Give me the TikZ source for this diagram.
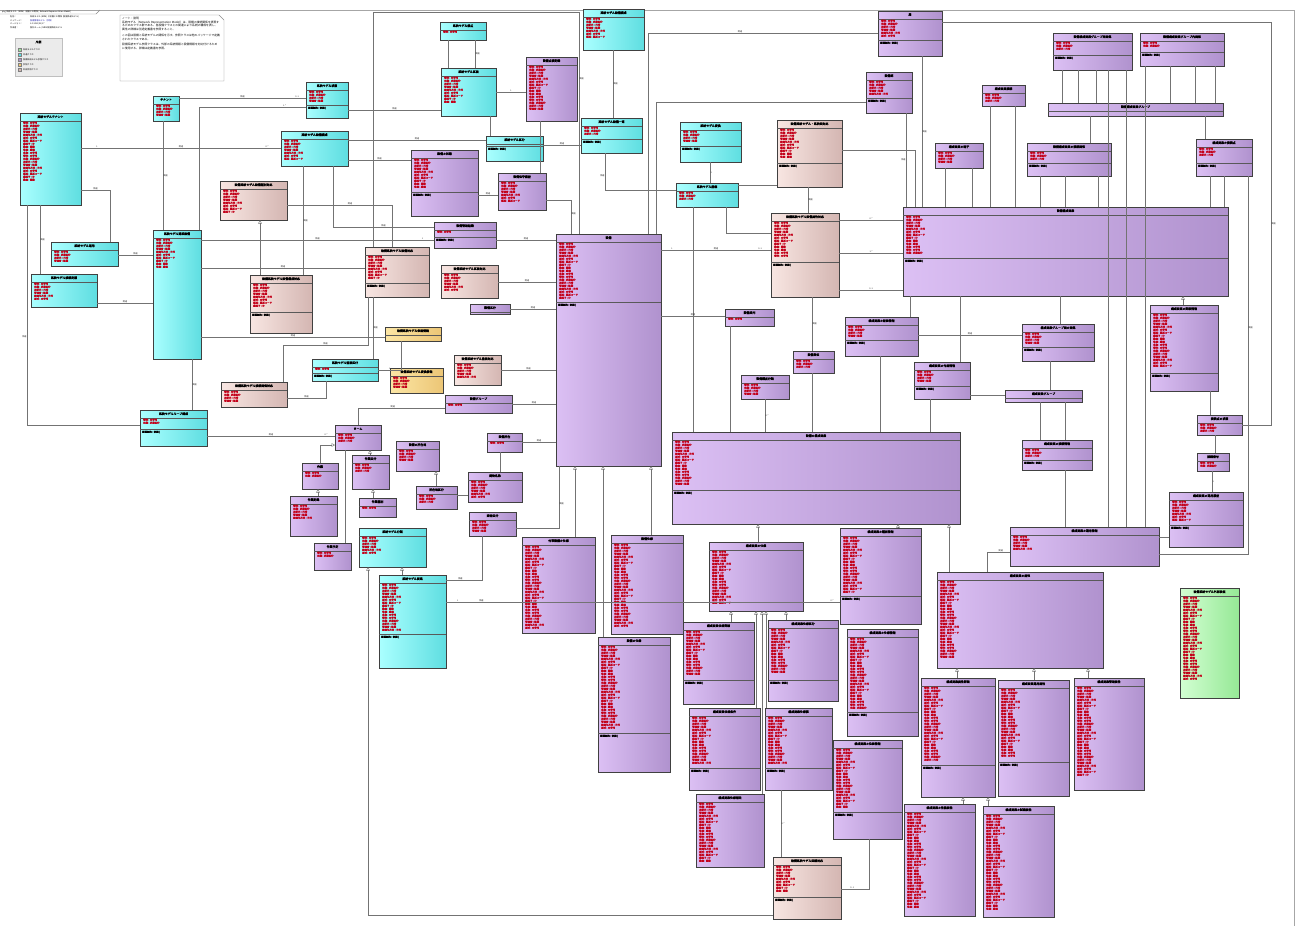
\documentclass[tikz,border=0pt]{standalone}
\usepackage{fontspec}
\newfontfamily\cjk[AutoFakeBold=2]{Noto Sans CJK JP}
\XeTeXlinebreaklocale "ja"
\XeTeXlinebreakskip=0pt
\usetikzlibrary{calc,arrows.meta}
\definecolor{cyL}{RGB}{170,255,255}
\definecolor{cyR}{RGB}{95,222,225}
\definecolor{puL}{RGB}{220,192,244}
\definecolor{puR}{RGB}{176,146,206}
\definecolor{pkL}{RGB}{248,230,226}
\definecolor{pkR}{RGB}{212,182,178}
\definecolor{orL}{RGB}{252,230,165}
\definecolor{orR}{RGB}{236,198,118}
\definecolor{grL}{RGB}{210,255,210}
\definecolor{grR}{RGB}{150,232,150}
\definecolor{attrred}{RGB}{195,0,25}
\definecolor{linkblue}{RGB}{30,30,170}
\newcommand\uTitleFont{\cjk\bfseries\fontsize{2.9}{3.2}\selectfont}
\newcommand\uAttrFont{\cjk\bfseries\fontsize{2.4}{2.8}\selectfont}
\newcommand\uLabFont{\cjk\fontsize{2.1}{2.5}\selectfont}
\newcommand\uNoteFont{\cjk\fontsize{2.8}{3.7}\selectfont}
\newcommand\uattr[1]{\ifcase#1 名称 : 文字列\or 識別子 : ID\or 設置年月日 : 日付\or 状態 : 状態区分\or 位置 : 座標\or 種別 : 種別コード\or 管理者 : 組織\or 備考 : 文字列\or 数量 : 整数\or 型式 : 文字列\or 更新日 : 日時\fi}
\tikzset{
 cy/.style={draw=black!75, line width=0.45pt, left color=cyL, right color=cyR},
 pu/.style={draw=black!75, line width=0.45pt, left color=puL, right color=puR},
 pk/.style={draw=black!75, line width=0.45pt, left color=pkL, right color=pkR},
 orb/.style={draw=black!75, line width=0.45pt, left color=orL, right color=orR},
 gr/.style={draw=black!75, line width=0.45pt, left color=grL, right color=grR},
 bl/.style={draw=black!65, line width=0.35pt},
 conn/.style={draw=black!55, line width=0.45pt},
 gen/.style={conn, -{Triangle[open,length=3.5pt,width=3.5pt]}},
 ml/.style={font=\uLabFont, inner sep=0.3pt, text=black!85},
 attr/.style={font=\uAttrFont, text=attrred, inner sep=0, anchor=west},
 ops/.style={font=\uAttrFont, text=black, inner sep=0, anchor=west},
 ttl/.style={font=\uTitleFont, inner sep=0, align=flush center, anchor=north},
}
\newcommand\ubox[9]{%
 \pgfmathsetmacro\ubw{#4-#2}\pgfmathsetmacro\ubh{#5-#3}\pgfmathsetmacro\ubt{#4-#2-3}%
 \node[#6, inner sep=0, outer sep=0, minimum width=\ubw pt, minimum height=\ubh pt, anchor=north west] (#1) at (#2,#3) {};
 \node[ttl, text width=\ubt pt] (#1t) at ($(#1.north)+(0,2.2)$) {#7};
 \draw[bl] ($(#1.north west)+(0,8)$) -- ($(#1.north east)+(0,8)$);
 \ifnum#8>0 \foreach \i in {1,...,#8}{\pgfmathtruncatemacro\k{mod(\i*7,11)}\node[attr] (#1a\i) at ($(#1.north west)+(3,8+3*\i-1.2)$) {\uattr{\k}};}\fi
 \ifnum#9>0 \draw[bl] (#2,#9) -- (#4,#9); \node[ops] (#1o) at (#2+2,#9+3) {関連制約 : 参照()};\fi
}
\begin{document}
\begin{tikzpicture}[x=1pt,y=-1pt]
\useasboundingbox (0,0) rectangle (1298,927);
\fill[white] (0,0) rectangle (1298,927);
% frame
\draw[black!35, line width=0.7pt] (0,10) -- (1294,10) -- (1294,926);
\draw[black!45, line width=0.4pt] (0,14) -- (96,14) -- (100,10);
\node[font=\uLabFont, anchor=west, inner sep=0] (pkg) at (2,12) {pkg 系統モデル（NRM）設備との関係 [ Network Representation Model ]};
% header rows
\node[font=\uLabFont, anchor=west, inner sep=0] (h1) at (10,17) {名前：};
\node[font=\uLabFont, anchor=west, inner sep=0] (h1v) at (30,17) {系統モデル (NRM) と設備との関係 (設備系統モデル)};
\node[font=\uLabFont, anchor=west, inner sep=0] (h2) at (10,20.5) {パッケージ：};
\node[font=\uLabFont, anchor=west, inner sep=0, text=linkblue] (h2v) at (30,20.5) {設備情報モデル（参照）};
\node[font=\uLabFont, anchor=west, inner sep=0] (h3) at (10,24) {バージョン：};
\node[font=\uLabFont, anchor=west, inner sep=0] (h3v) at (30,24) {1.0 2023/01/17};
\node[font=\uLabFont, anchor=west, inner sep=0] (h4) at (10,27.5) {作成者：};
\node[font=\uLabFont, anchor=west, inner sep=0] (h4v) at (30,27.5) {設計チーム / NRM 設備系統モデル};
% legend
\node[draw=black!25, fill=black!8, inner sep=0, minimum width=47pt, minimum height=38pt, anchor=north west] (leg) at (15,38) {};
\node[font=\uTitleFont, inner sep=0] (legt) at (38.5,42) {凡例};
\foreach \c/\t [count=\n] in {grR/系統モデルクラス, cyR/共通クラス, puR/設備系統モデル参照クラス, orR/参照クラス, pkR/外部参照クラス}{
  \node[draw=black!50, fill=\c, minimum size=3pt, inner sep=0] (legs\n) at (19.5,45+5*\n) {};
  \node[font=\uLabFont, anchor=west, inner sep=0] (legl\n) at (23,45+5*\n) {\t};
}
% note
\draw[draw=black!45, fill=white, line width=0.4pt] (120,15) -- (219,15) -- (224,20) -- (224,81) -- (120,81) -- cycle;
\node[font=\uNoteFont, text width=98pt, anchor=north west, inner sep=0, align=left] (note) at (122,17) {ノート：説明\\系統モデル（Network Representation Model）は、設備の接続関係を表現するためのクラス群である。各設備クラスとの関連により系統の構成を表し、属性の詳細は別途定義書を参照すること。\\[2pt]この図は設備と系統モデルの関係を示す。参照クラスは他のパッケージで定義されたクラスである。\\[2pt]設備系統モデル参照クラスは、外部の系統情報と設備情報を対応付けるために使用する。詳細は定義書を参照。};
% ===== boxes =====
\ubox{C1}{153}{96}{179}{121}{cy}{テナント}{4}{0}
\ubox{C2}{20}{113}{81}{205}{cy}{系統モデルテナント}{20}{0}
\ubox{C3}{306}{82}{348}{118}{cy}{系統モデル状態}{4}{105}
\ubox{C4}{281}{131}{348}{166}{cy}{系統モデル設備構成}{7}{0}
\ubox{C5}{51}{242}{118}{266}{cy}{系統モデル運用}{4}{0}
\ubox{C6}{31}{274}{97}{307}{cy}{系統モデル接続定義}{6}{0}
\ubox{C7}{153}{230}{201}{359}{cy}{系統モデル連系設備}{10}{0}
\ubox{C8}{312}{359}{378}{381}{cy}{系統モデル監視区分}{1}{373}
\ubox{C9}{140}{410}{207}{446}{cy}{系統モデルループ構成}{2}{429}
\ubox{C10}{583}{9}{644}{50}{cy}{系統モデル設備構成}{7}{0}
\ubox{C11}{440}{22}{486}{40}{cy}{系統モデル接点}{1}{0}
\ubox{C12}{441}{68}{496}{116}{cy}{系統モデル区間}{9}{0}
\ubox{C13}{486}{136}{543}{161}{cy}{系統モデル区分}{0}{146}
\ubox{C14}{581}{118}{642}{153}{cy}{系統モデル設備一覧}{3}{139}
\ubox{C15}{680}{122}{741}{162}{cy}{系統モデル変換}{4}{146}
\ubox{C16}{676}{183}{738}{207}{cy}{系統モデル座標}{3}{0}
\ubox{C17}{359}{528}{426}{567}{cy}{系統モデル分類}{6}{0}
\ubox{C18}{379}{575}{446}{668}{cy}{系統モデル要素}{16}{634}
\ubox{P1}{220}{181}{287}{220}{pk}{設備系統モデル設備種別対応}{8}{0}
\ubox{P2}{250}{275}{312}{333}{pk}{設備系統モデル設備構成対応}{8}{312}
\ubox{P3}{365}{247}{429}{297}{pk}{設備系統モデル設備対応}{8}{283}
\ubox{P4}{221}{382}{287}{407}{pk}{設備系統モデル接続関係対応}{4}{0}
\ubox{P5}{441}{265}{498}{298}{pk}{設備系統モデル区間対応}{6}{0}
\ubox{P6}{454}{355}{501}{385}{pk}{設備系統モデル監視対応}{5}{0}
\ubox{P7}{777}{120}{842}{187}{pk}{設備系統モデル・系統図対応}{10}{163}
\ubox{P8}{771}{213}{839}{297}{pk}{設備系統モデル設備属性対応}{12}{262}
\ubox{P9}{773}{857}{841}{919}{pk}{設備系統モデル回線対応}{9}{897}
\ubox{O1}{385}{327}{441}{341}{orb}{設備系統モデル参照情報}{0}{0}
\ubox{O2}{390}{368}{443}{393}{orb}{設備系統モデル変換情報}{4}{0}
\ubox{G1}{1180}{588}{1239}{698}{gr}{設備系統モデル外部参照}{28}{0}
\ubox{U1}{526}{57}{577}{121}{pu}{設備点検記録}{15}{0}
\ubox{U2}{411}{150}{478}{216}{pu}{設備の状態}{10}{192}
\ubox{U3}{498}{173}{546}{210}{pu}{設備保守履歴}{7}{0}
\ubox{U4}{434}{222}{496}{248}{pu}{設備管理組織}{1}{237}
\ubox{U5}{470}{304}{510}{314}{pu}{設備区分}{0}{0}
\ubox{U6}{445}{395}{512}{413}{pu}{設備グループ}{1}{0}
\ubox{U7}{487}{433}{522}{452}{pu}{設備所在}{1}{0}
\ubox{U8}{556}{234}{661}{466}{pu}{設備}{19}{302}
\ubox{U9}{725}{309}{774}{326}{pu}{設備系列}{1}{0}
\ubox{U10}{793}{351}{834}{373}{pu}{設備単位}{3}{0}
\ubox{U11}{741}{375}{789}{399}{pu}{設備種別分類}{4}{0}
\ubox{U12}{672}{432}{960}{524}{pu}{設備の構成要素}{15}{490}
\ubox{U13}{878}{11}{942}{56}{pu}{局}{6}{40}
\ubox{U14}{866}{72}{912}{113}{pu}{設備群}{5}{98}
\ubox{U15}{1053}{33}{1132}{70}{pu}{設備構成要素グループ間関係}{3}{55}
\ubox{U16}{1140}{33}{1224}{66}{pu}{設備構成要素グループ内関係}{2}{52}
\ubox{U17}{982}{85}{1025}{106}{pu}{構成要素接続}{3}{0}
\ubox{U18}{1048}{103}{1223}{116}{pu}{設備構成要素グループ}{0}{0}
\ubox{U19}{935}{143}{983}{168}{pu}{構成要素の端子}{4}{0}
\ubox{U20}{1027}{143}{1111}{176}{pu}{設備構成要素の接続関係}{3}{163}
\ubox{U21}{1196}{139}{1252}{176}{pu}{構成要素の接続点}{3}{163}
\ubox{U22}{903}{207}{1228}{296}{pu}{設備構成要素}{13}{258}
\ubox{U23}{845}{317}{918}{356}{pu}{構成要素の配置情報}{4}{340}
\ubox{U24}{1022}{324}{1094}{361}{pu}{構成要素グループ間の関係}{4}{347}
\ubox{U25}{914}{362}{970}{399}{pu}{構成要素の付属情報}{4}{386}
\ubox{U26}{1005}{390}{1082}{402}{pu}{構成要素グループ}{0}{0}
\ubox{U27}{1150}{305}{1218}{391}{pu}{構成要素の詳細情報}{18}{373}
\ubox{U28}{1197}{415}{1242}{435}{pu}{接続点の状態}{3}{0}
\ubox{U29}{1022}{440}{1092}{470}{pu}{構成要素の接続情報}{3}{460}
\ubox{U30}{1197}{453}{1229}{471}{pu}{接続番号}{2}{0}
\ubox{U31}{1169}{492}{1243}{547}{pu}{構成要素の運用履歴}{7}{525}
\ubox{U32}{1010}{527}{1159}{566}{pu}{構成要素の運用情報}{5}{0}
\ubox{U33}{937}{572}{1103}{668}{pu}{構成要素の属性}{26}{0}
\ubox{U34}{921}{678}{995}{797}{pu}{構成要素属性詳細}{25}{765}
\ubox{U35}{998}{680}{1069}{796}{pu}{構成要素運用属性}{23}{762}
\ubox{U36}{1074}{678}{1144}{790}{pu}{構成要素管理属性}{30}{0}
\ubox{U37}{904}{804}{975}{916}{pu}{構成要素の性能属性}{32}{0}
\ubox{U38}{983}{806}{1054}{917}{pu}{構成要素の試験属性}{32}{0}
\ubox{U39}{840}{528}{921}{624}{pu}{構成要素の種別情報}{19}{596}
\ubox{U40}{847}{629}{918}{736}{pu}{構成要素の仕様情報}{24}{712}
\ubox{U41}{833}{740}{902}{839}{pu}{構成要素の位置情報}{20}{812}
\ubox{U42}{468}{472}{522}{502}{pu}{建物名称}{6}{0}
\ubox{U43}{469}{512}{516}{536}{pu}{建物区分}{4}{0}
\ubox{U44}{522}{537}{595}{633}{pu}{付帯設備の仕様}{28}{0}
\ubox{U45}{611}{535}{683}{634}{pu}{設備仕様}{28}{0}
\ubox{U46}{709}{542}{803}{611}{pu}{構成要素の仕様}{18}{0}
\ubox{U47}{598}{637}{670}{772}{pu}{設備の仕様}{28}{733}
\ubox{U48}{683}{622}{754}{704}{pu}{構成要素仕様詳細}{15}{680}
\ubox{U49}{768}{620}{838}{701}{pu}{構成要素仕様区分}{15}{680}
\ubox{U50}{689}{708}{760}{790}{pu}{構成要素仕様条件}{16}{768}
\ubox{U51}{765}{708}{832}{790}{pu}{構成要素仕様値}{16}{768}
\ubox{U52}{696}{794}{764}{867}{pu}{構成要素仕様補足}{20}{0}
\ubox{U53}{335}{425}{381}{450}{pu}{ターム}{3}{0}
\ubox{U54}{396}{441}{439}{471}{pu}{設備の所在地}{4}{0}
\ubox{U55}{416}{486}{457}{509}{pu}{所在地区分}{3}{0}
\ubox{U56}{302}{463}{338}{489}{pu}{作業}{2}{0}
\ubox{U57}{352}{455}{389}{489}{pu}{作業区分}{3}{0}
\ubox{U58}{290}{496}{337}{536}{pu}{作業記録}{5}{0}
\ubox{U59}{359}{498}{396}{517}{pu}{作業種別}{1}{0}
\ubox{U60}{314}{543}{351}{570}{pu}{作業予定}{2}{0}
% ===== connectors: left =====
\draw[conn] (C2.east|-0,148) -- node[ml,above,pos=0.08]{1} node[ml,above]{関連} node[ml,above,pos=0.93]{0..*} (C4.west|-0,148);
\draw[conn] (C1.east|-0,98) -- node[ml,above]{関連} node[ml,above,pos=0.93]{0..1} (C3.west|-0,98);
\draw[conn] (C1.south-|163,0) -- node[ml,right]{関連} (C7.north-|163,0);
\draw[conn] (C7.north-|199,0) |- node[ml,above,pos=0.9]{1..*} (C3.west|-0,107);
\draw[conn] (C2.east|-0,190) -| node[ml,above,pos=0.25]{関連} (C5.north-|110,0);
\draw[conn] (C2.south-|40,0) -- node[ml,right]{関連} (C6.north-|40,0);
\draw[conn] (C2.south-|27,0) |- node[ml,left,pos=0.3]{関連} (C9.west|-0,425);
\draw[conn] (C5.east|-0,255) -- node[ml,above]{関連} (C7.west|-0,255);
\draw[conn] (C6.east|-0,303) -- node[ml,above]{関連} (C7.west|-0,303);
\draw[conn] (C7.south-|192,0) -- node[ml,right]{関連} (C9.north-|192,0);
\draw[conn] (C9.east|-0,436) -- node[ml,above]{関連} node[ml,above,pos=0.93]{0..*} (U53.west|-0,436);
\draw[conn] (C7.east|-0,240) -- node[ml,above]{関連} node[ml,above,pos=0.95]{1} (U4.west|-0,240);
\draw[conn] (U4.east|-0,240) -- node[ml,above]{関連} (U8.west|-0,240);
\draw[conn] (C7.east|-0,268) -- node[ml,above]{関連} (P3.west|-0,268);
\draw[conn] (C7.east|-0,337) -- node[ml,above]{関連} (O1.west|-0,337);
\draw[gen] (P2.north-|260,0) -- (P1.south-|260,0);
\draw[conn] (C4.south-|303,0) -- node[ml,right]{関連} (P2.north-|303,0);
\draw[conn] (C4.south-|333,0) |- node[ml,above,pos=0.75]{関連} (U4.west|-0,227);
\draw[conn] (P1.east|-0,205) -| node[ml,above,pos=0.3]{関連} (P3.north-|392,0);
\draw[conn] (C3.east|-0,110) -- node[ml,above]{関連} (C12.west|-0,110);
\draw[conn] (C4.east|-0,140) -- node[ml,above]{関連} (C13.west|-0,140);
\draw[conn] (C4.east|-0,160) -- node[ml,above]{関連} (U2.west|-0,160);
\draw[conn] (P3.north-|373,0) -- (373,12) -- (579,12) -- node[ml,right,pos=0.3]{関連} (U8.north-|579,0);
\draw[conn] (P3.south-|373,0) -- node[ml,right]{関連} (C8.north-|373,0);
\draw[conn] (O1.south-|401,0) |- node[ml,above,pos=0.75]{1} (C8.east|-0,370);
\draw[conn] (P3.south-|368,0) -- (368,345) -| node[ml,above,pos=0.25]{関連} (P4.north-|283,0);
\draw[conn] (C8.south-|326,0) |- node[ml,above,pos=0.75]{関連} (P4.east|-0,398);
\draw[conn] (U53.north-|358,0) |- node[ml,above,pos=0.7]{関連} (U6.west|-0,408);
\draw[conn] (C11.south-|448,0) -- (C12.north-|448,0);
\draw[conn] (C11.south-|475,0) -- node[ml,right]{関連} (C12.north-|475,0);
\draw[conn] (C12.east|-0,92) -- node[ml,above]{1} (U1.west|-0,92);
\draw[conn] (C12.south-|490,0) -- (C13.north-|490,0);
\draw[conn] (U1.south-|540,0) -- (U3.north-|540,0);
\draw[conn] (C10.south-|613,0) -- node[ml,right]{関連} (C14.north-|613,0);
\draw[conn] (C14.west|-0,145) -- node[ml,above]{関連} (C13.east|-0,145);
\draw[conn] (C14.south-|605,0) |- node[ml,left,pos=0.3]{関連} (C16.west|-0,190);
\draw[conn] (U13.west|-0,33) -| node[ml,above,pos=0.3]{関連} (U8.north-|648,0);
\draw[conn] (U14.west|-0,102) -| (U8.north-|656,0);
\draw[conn] (C16.south-|693,0) -- (U12.north-|693,0);
\draw[conn] (C16.south-|726,0) |- (P8.west|-0,233);
\draw[conn] (C16.east|-0,185) -- (P7.west|-0,185);
\draw[conn] (C15.south-|710,0) -- node[ml,right]{1} (C16.north-|710,0);
\draw[conn] (U8.east|-0,250) -- node[ml,above,pos=0.1]{1} node[ml,above]{関連} node[ml,above,pos=0.9]{0..1} (P8.west|-0,250);
\draw[conn] (U8.east|-0,316) -- node[ml,above]{関連} (U9.west|-0,316);
\draw[conn] (P7.south-|808,0) -- node[ml,right]{関連} (P8.north-|808,0);
\draw[conn] (P8.south-|812,0) -- node[ml,right]{関連} (U10.north-|812,0);
\draw[conn] (U9.south-|730,0) -- (U12.north-|730,0);
\draw[conn] (U10.south-|812,0) -- (U12.north-|812,0);
\draw[conn] (U11.south-|765,0) -- node[ml,right]{0..*} (U12.north-|765,0);
\draw[conn] (U2.east|-0,195) -- node[ml,above]{関連} (U3.west|-0,195);
\draw[conn] (U3.east|-0,200) -| node[ml,right,pos=0.7]{関連} (U8.north-|571,0);
\draw[conn] (P5.east|-0,282) -- node[ml,above]{関連} (U8.west|-0,282);
\draw[conn] (U5.east|-0,309) -- node[ml,above]{関連} (U8.west|-0,309);
\draw[conn] (P6.east|-0,370) -- node[ml,above]{関連} (U8.west|-0,370);
\draw[conn] (U6.east|-0,404) -- node[ml,above]{関連} (U8.west|-0,404);
\draw[conn] (U7.east|-0,442) -- node[ml,above]{関連} (U8.west|-0,442);
\draw[conn] (U23.south-|880,0) -- (U12.north-|880,0);
\draw[conn] (U25.south-|930,0) -- (U12.north-|930,0);
% ===== connectors: right =====
\draw[conn] (U13.south-|922,0) -- node[ml,right]{関連} (U22.north-|922,0);
\draw[conn] (U14.south-|906,0) -- node[ml,left]{関連} (U22.north-|906,0);
\draw[conn] (U13.east|-0,22) -- (1271,22) |- node[ml,right,pos=0.25]{関連} (U28.east|-0,425);
\foreach \xx in {1062,1078,1096} \draw[conn] (U15.south-|\xx,0) -- (U18.north-|\xx,0);
\draw[conn] (U15.south-|1108,0) -- (U32.north-|1108,0);
\draw[conn] (U15.south-|1126,0) -- (U32.north-|1126,0);
\draw[conn] (U16.south-|1145,0) -- (U32.north-|1145,0);
\foreach \xx in {1170,1195,1215} \draw[conn] (U16.south-|\xx,0) -- (U18.north-|\xx,0);
\foreach \xx in {990,1015} \draw[conn] (U17.south-|\xx,0) -- (U22.north-|\xx,0);
\draw[conn] (U18.south-|1090,0) -- (U20.north-|1090,0);
\draw[conn] (U18.south-|1205,0) -- (U21.north-|1205,0);
\foreach \xx in {945,972} \draw[conn] (U19.south-|\xx,0) -- (U22.north-|\xx,0);
\foreach \xx in {1040,1065,1098} \draw[conn] (U20.south-|\xx,0) -- (U22.north-|\xx,0);
\foreach \xx in {1210,1224} \draw[conn] (U21.south-|\xx,0) -- (U22.north-|\xx,0);
\draw[gen] (U27.north-|1183,0) -- (U22.south-|1183,0);
\draw[conn] (P8.east|-0,220) -- node[ml,above]{0..*} (U22.west|-0,220);
\draw[conn] (P8.east|-0,253) -- node[ml,above]{1..*} (U22.west|-0,253);
\draw[conn] (P8.east|-0,290) -- node[ml,above]{0..1} (U22.west|-0,290);
\draw[conn] (P7.east|-0,150) -| (U22.north-|915,0);
\draw[conn] (U22.south-|910,0) -- (U23.north-|910,0);
\draw[conn] (U22.south-|960,0) -- (U25.north-|960,0);
\draw[conn] (U22.south-|1060,0) -- (U24.north-|1060,0);
\draw[conn] (U23.east|-0,335) -- node[ml,above]{関連} (U24.west|-0,335);
\draw[conn] (U25.east|-0,395) -- (U26.west|-0,395);
\draw[conn] (U24.south-|1050,0) -- (U26.north-|1050,0);
\draw[conn] (U26.south-|1040,0) -- (U29.north-|1040,0);
\draw[conn] (U26.south-|1065,0) -- (U29.north-|1065,0);
\draw[conn] (U27.south-|1210,0) -- (U28.north-|1210,0);
\draw[conn] (U28.south-|1215,0) -- (U30.north-|1215,0);
\draw[conn] (U30.south-|1212,0) -- node[ml,right]{1} (U31.north-|1212,0);
\draw[conn] (U32.east|-0,537) -- (U31.west|-0,537);
\draw[conn] (U32.east|-0,554) -| node[ml,right,pos=0.8]{関連} (U21.south-|1248,0);
\draw[conn] (U29.south-|1065,0) -- (U32.north-|1065,0);
\draw[conn] (U33.north-|987,0) |- node[ml,above,pos=0.8]{関連} (U32.west|-0,552);
\draw[gen] (U33.north-|949,0) -- (U12.south-|949,0);
\draw[gen] (U39.north-|898,0) -- (U12.south-|898,0);
\draw[gen] (U34.north-|957,0) -- (U33.south-|957,0);
\draw[gen] (U35.north-|1034,0) -- (U33.south-|1034,0);
\draw[gen] (U36.north-|1088,0) -- (U33.south-|1088,0);
\draw[gen] (U37.north-|963,0) -- (U34.south-|963,0);
\draw[gen] (U38.north-|988,0) -- (U34.south-|988,0);
\draw[conn] (U41.south-|869,0) |- node[ml,above,pos=0.8]{0..1} (P9.east|-0,889);
% ===== connectors: bottom =====
\draw[gen] (U46.north-|758,0) -- (U12.south-|758,0);
\draw[gen] (U48.north-|731,0) -- (U46.south-|731,0);
\draw[gen] (U50.north-|756,0) -- (U46.south-|756,0);
\draw[gen] (U52.north-|762,0) -- (U46.south-|762,0);
\draw[gen] (U51.north-|766,0) -- (U46.south-|766,0);
\draw[gen] (U49.north-|786,0) -- (U46.south-|786,0);
\draw[conn] (U51.south-|781,0) -- node[ml,right]{0..*} (P9.north-|781,0);
\draw[gen] (U44.north-|575,0) -- (U8.south-|575,0);
\draw[gen] (U47.north-|603,0) -- (U8.south-|603,0);
\draw[gen] (U45.north-|651,0) -- (U8.south-|651,0);
\draw[conn] (C18.east|-0,602) -- node[ml,above,pos=0.03]{1} node[ml,above,pos=0.09]{関連} node[ml,above,pos=0.98]{0..*} (U39.west|-0,602);
\draw[conn] (U43.south-|482,0) |- node[ml,above,pos=0.8]{関連} (C18.east|-0,580);
\draw[conn] (U43.east|-0,528) -| node[ml,right,pos=0.7]{関連} (U8.south-|559,0);
\draw[gen] (P9.west|-0,915) -| (C17.south-|368,0);
\draw[gen] (C18.north-|402,0) -- (C17.south-|402,0);
\draw[conn] (U53.south-|345,0) -- (U60.north-|345,0);
\draw[gen] (U58.north-|318,0) -- (U56.south-|318,0);
\draw[gen] (U59.north-|373,0) -- (U57.south-|373,0);
\draw[gen] (U57.north-|370,0) -- (U53.south-|370,0);
\draw[gen] (U56.north-|320,0) |- (U53.west|-0,445);
\draw[gen] (U55.north-|436,0) -- (U54.south-|436,0);
\draw[conn] (U55.east|-0,495) -- (U42.west|-0,495);
\draw[conn] (U7.south-|500,0) -- (U42.north-|500,0);
\end{tikzpicture}
\end{document}
